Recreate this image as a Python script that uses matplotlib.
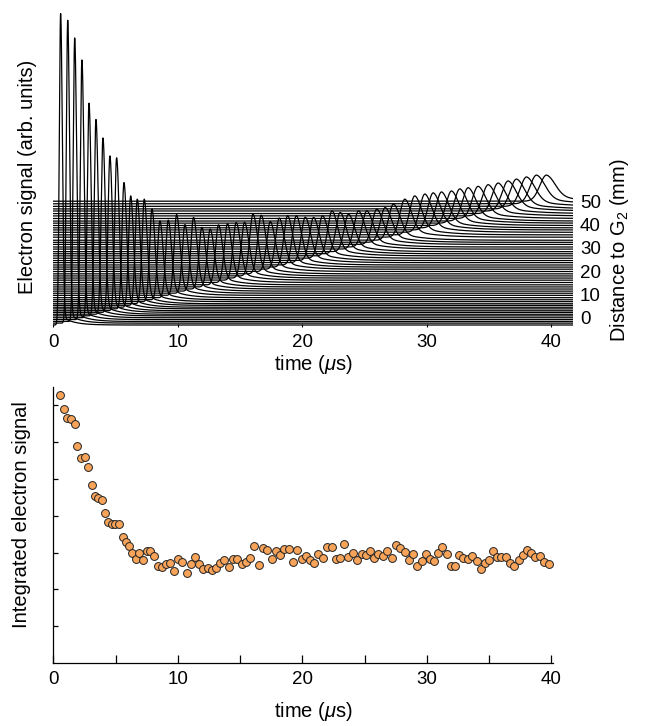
import matplotlib
matplotlib.use("Agg")
import matplotlib.pyplot as plt
import numpy as np

plt.rcParams['font.family'] = ['Liberation Sans', 'DejaVu Sans']
plt.rcParams['mathtext.fontset'] = 'custom'
plt.rcParams['mathtext.rm'] = 'Liberation Sans'
plt.rcParams['mathtext.it'] = 'Liberation Sans:italic'

# top panel: one trace per distance, peak time (us) and peak height (mm units)
peak_times = [0.59, 1.16, 1.72, 2.30, 2.87, 3.43, 3.99, 4.55, 5.09, 5.68,
              6.22, 6.75, 7.31, 7.93, 8.57, 9.24, 9.91, 10.58, 11.27, 11.94,
              12.61, 13.28, 14.00, 14.70, 15.37, 16.05, 16.71, 17.44, 18.16, 18.83,
              19.53, 20.25, 20.92, 21.64, 22.40, 23.06, 23.73, 24.53, 25.20, 26.00,
              26.67, 27.34, 28.25, 29.05, 29.86, 30.53, 31.20, 32.00, 32.67, 33.34,
              34.14, 34.95, 35.75, 36.55, 37.22, 38.03, 38.83, 39.63]
peak_heights = [133.3, 129.7, 121.4, 111.2, 91.9, 84.1, 75.5, 67.0, 65.5, 54.1,
                47.7, 45.5, 44.8, 39.7, 33.8, 33.2, 34.6, 29.4, 31.6, 26.4,
                24.8, 25.7, 25.2, 24.7, 23.9, 26.5, 25.1, 21.4, 21.9, 22.0,
                21.1, 19.5, 18.5, 18.2, 19.3, 17.7, 16.1, 16.4, 15.5, 15.1,
                14.9, 15.5, 16.3, 16.7, 16.4, 15.9, 15.4, 14.8, 14.7, 14.3,
                13.8, 13.4, 13.1, 12.9, 12.8, 12.6, 12.3, 11.2]
distances = [-3.0, -2.2, -1.5, -0.7, 0.1, 0.9, 1.6, 2.4, 3.1, 3.9,
             4.6, 5.4, 6.1, 7.0, 7.8, 8.7, 9.7, 10.6, 11.5, 12.4,
             13.3, 14.2, 15.2, 16.2, 17.1, 18.0, 18.9, 19.9, 20.9, 21.8,
             22.7, 23.7, 24.6, 25.6, 26.6, 27.5, 28.4, 29.5, 30.4, 31.5,
             32.4, 33.3, 34.6, 35.6, 36.7, 37.7, 38.6, 39.6, 40.6, 41.5,
             42.6, 43.7, 44.7, 45.8, 46.7, 47.8, 48.9, 50.0]

# bottom panel: integrated signal
int_time = [0.54, 0.86, 1.07, 1.39, 1.71, 1.93, 2.22, 2.55, 2.81, 3.11,
            3.35, 3.56, 3.89, 4.18, 4.42, 4.69, 4.96, 5.28, 5.57, 5.84,
            6.10, 6.35, 6.64, 6.91, 7.23, 7.50, 7.77, 8.09, 8.43, 8.73,
            9.03, 9.37, 9.69, 10.04, 10.36, 10.71, 11.04, 11.38, 11.70, 12.05,
            12.40, 12.72, 13.07, 13.39, 13.71, 14.09, 14.41, 14.78, 15.13, 15.48,
            15.80, 16.15, 16.52, 16.87, 17.19, 17.54, 17.89, 18.23, 18.53, 18.91,
            19.25, 19.60, 19.95, 20.27, 20.62, 20.96, 21.29, 21.64, 21.96, 22.36,
            22.71, 23.03, 23.38, 23.70, 24.05, 24.42, 24.77, 25.12, 25.46, 25.78,
            26.10, 26.46, 26.83, 27.18, 27.50, 27.85, 28.25, 28.57, 28.92, 29.24,
            29.59, 29.91, 30.26, 30.58, 30.92, 31.24, 31.60, 31.92, 32.26, 32.61,
            32.93, 33.29, 33.66, 34.01, 34.33, 34.65, 35.00, 35.32, 35.64, 35.98,
            36.34, 36.68, 37.03, 37.38, 37.70, 38.02, 38.37, 38.71, 39.09, 39.44,
            39.79]
int_signal = [7.28, 6.89, 6.65, 6.62, 6.49, 5.90, 5.56, 5.59, 5.32, 4.83,
              4.54, 4.48, 4.43, 4.08, 3.84, 3.78, 3.78, 3.78, 3.43, 3.30,
              3.19, 2.98, 2.83, 2.98, 2.80, 3.04, 3.03, 2.91, 2.64, 2.62,
              2.68, 2.71, 2.51, 2.83, 2.75, 2.44, 2.68, 2.89, 2.68, 2.55,
              2.57, 2.53, 2.57, 2.71, 2.80, 2.60, 2.83, 2.82, 2.68, 2.75,
              2.84, 3.18, 2.67, 3.12, 3.07, 2.82, 3.03, 2.94, 3.09, 3.09,
              2.75, 3.07, 2.82, 2.91, 2.80, 2.73, 2.96, 2.85, 3.14, 3.16,
              2.82, 2.84, 3.23, 2.89, 3.00, 2.80, 2.97, 2.93, 3.04, 2.84,
              2.97, 2.90, 3.05, 2.84, 3.21, 3.12, 3.01, 2.80, 2.96, 2.64,
              2.78, 2.96, 2.83, 2.77, 3.00, 3.16, 2.96, 2.64, 2.64, 2.93,
              2.84, 2.83, 2.92, 2.78, 2.55, 2.73, 2.80, 3.03, 2.89, 2.89,
              2.89, 2.73, 2.64, 2.80, 2.93, 3.07, 3.00, 2.89, 2.92, 2.75,
              2.69]


def pulse(t, t0, h):
    # asymmetric peak: gaussian rise, slower fall with a small tail
    s = 0.10 + 0.011 * t0
    dt = t - t0
    rise = h * np.exp(-0.5 * (dt / s) ** 2)
    tail_amp = min(0.25 * h, 4.0)
    fall = (h - tail_amp) * np.exp(-0.5 * (dt / (1.3 * s)) ** 2) \
        + tail_amp * np.exp(-np.clip(dt, 0, None) / (3 * s + 0.6))
    return np.where(dt < 0, rise, fall)


fig = plt.figure(figsize=(6.45, 7.26), dpi=100)
ax1 = fig.add_axes([0.0826, 0.5496, 0.8057, 0.4435])
ax2 = fig.add_axes([0.0826, 0.0868, 0.7752, 0.3802])

t = np.linspace(0, 41.75, 6000)
for t0, h, d in zip(peak_times, peak_heights, distances):
    ax1.plot(t, d + pulse(t, t0, h), color='black', lw=0.9)

ax1.set_xlim(0, 41.75)
ax1.set_ylim(-3.85, 134)
for s in ax1.spines.values():
    s.set_visible(False)
ax1.set_xticks([0, 10, 20, 30, 40])
ax1.tick_params(axis='x', direction='in', length=2.5, width=0.8, labelsize=13.5, pad=5)
ax1.yaxis.tick_right()
ax1.set_yticks([0, 10, 20, 30, 40, 50])
ax1.tick_params(axis='y', length=0, labelsize=13.5, pad=5)

fig.text(0.4853, 0.4986, r'time ($\mu$s)', ha='center', va='center', fontsize=14.5)
fig.text(0.0434, 0.7562, 'Electron signal (arb. units)', rotation=90,
         ha='center', va='center', fontsize=14.5)
fig.text(0.9612, 0.6556, r'Distance to G$_2$ (mm)', rotation=90,
         ha='center', va='center', fontsize=14.5)

ax2.scatter(int_time, int_signal, s=32, color='#F7A45A', edgecolor='#222222',
            linewidth=0.7, zorder=3, clip_on=False)
ax2.set_xlim(0, 40.15)
ax2.set_ylim(0, 7.5)
ax2.spines['top'].set_visible(False)
ax2.spines['right'].set_visible(False)
ax2.spines['left'].set_linewidth(0.9)
ax2.spines['bottom'].set_linewidth(0.9)
ax2.set_xticks([0, 10, 20, 30, 40])
ax2.set_xticks([5, 15, 25, 35], minor=True)
ax2.set_yticks([1, 2, 3, 4, 5, 6, 7])
ax2.set_yticklabels([])
ax2.tick_params(axis='x', which='both', direction='in', length=6, width=0.9,
                labelsize=13.5, pad=6)
ax2.tick_params(axis='y', direction='in', length=3.5, width=0.9)

fig.text(0.4853, 0.0197, r'time ($\mu$s)', ha='center', va='center', fontsize=14.5)
fig.text(0.0326, 0.2906, 'Integrated electron signal', rotation=90,
         ha='center', va='center', fontsize=14.5)

plt.savefig('out.png', dpi=100)
